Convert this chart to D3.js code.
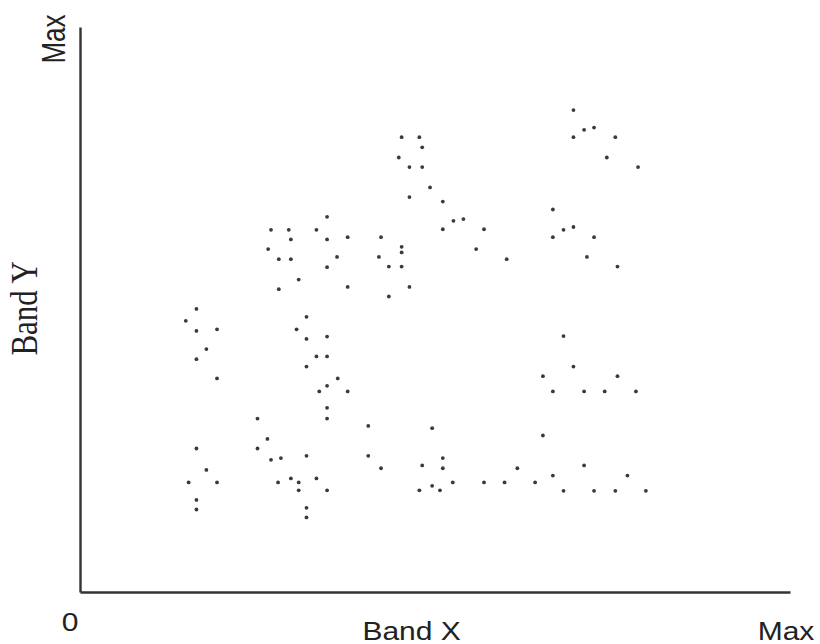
<!DOCTYPE html>
<html>
<head>
<meta charset="utf-8">
<script src="https://cdn.jsdelivr.net/npm/d3@7"></script>
<style>
	body { margin: 0; background: #fff; }
	svg { display: block; }
	.label { font-family: 'Liberation Sans', Arial, sans-serif; fill: #222; }
	.label-serif { font-family: 'Liberation Serif', 'Times New Roman', serif; fill: #222; }
</style>
</head>
<body>
<div id="scatter"></div>
<script>
// Global vars
var WIDTH = 820;
var HEIGHT = 644;

// Points, both axes on a 0..100 (0..Max) scale
var bandX = [
	16.4, 14.9, 16.4, 19.3, 17.8, 16.4, 19.3, 16.4, 17.8, 15.3, 19.3, 16.4, 16.4,
	31.9, 30.5, 31.9, 34.8, 33.3, 34.8, 31.9, 36.3, 34.8, 33.7, 37.7, 34.8, 34.8,
	25.0, 26.4, 25.0, 26.9, 28.3, 31.9, 27.9, 29.7, 30.8, 33.3, 30.8, 34.8, 31.9, 31.9,
	34.8, 26.9, 29.4, 33.3, 29.7, 34.8, 37.7, 26.5, 28.0, 29.7, 36.2, 34.8, 30.8, 28.0, 37.7,
	45.3, 47.8, 48.2, 44.9, 46.4, 48.2, 49.3, 46.4, 51.1, 52.6, 54.0, 51.1, 56.9,
	42.4, 45.3, 45.3, 42.1, 43.5, 45.3, 55.8, 60.1, 46.4, 43.5,
	40.6, 49.6, 40.6, 51.1, 42.4, 48.2, 51.1, 61.6, 52.5, 56.9, 59.8, 49.6, 47.8, 50.7,
	69.5, 71.0, 72.4, 69.5, 75.4, 74.2, 78.6, 66.6, 68.1, 69.5, 66.6, 72.4, 71.4, 75.7,
	68.1, 69.5, 65.2, 75.7, 66.6, 71.0, 73.9, 78.3,
	65.2, 71.0, 66.6, 77.1, 64.1, 68.1, 72.4, 75.4, 79.7
];

var bandY = [
	50.1, 48.0, 46.2, 46.5, 43.0, 41.2, 37.8, 25.4, 21.6, 19.4, 19.4, 16.3, 14.6,
	48.7, 46.5, 44.8, 45.2, 41.7, 41.7, 39.9, 37.8, 36.5, 35.5, 35.5, 32.6, 30.7,
	30.7, 27.1, 25.4, 23.4, 23.7, 24.1, 19.4, 20.1, 19.4, 20.1, 18.0, 18.0, 14.9, 13.2,
	66.4, 64.1, 64.1, 64.1, 62.4, 62.4, 62.8, 60.7, 58.9, 58.9, 59.3, 57.5, 55.3, 53.6, 54.0,
	80.5, 80.5, 78.7, 76.9, 75.2, 75.2, 71.6, 69.9, 69.1, 65.7, 66.0, 64.2, 64.2,
	62.8, 61.1, 60.1, 59.3, 57.6, 57.6, 60.7, 58.9, 54.0, 52.3,
	29.4, 29.0, 24.1, 23.7, 21.9, 22.4, 21.9, 21.9, 19.4, 19.4, 19.4, 18.8, 18.0, 18.0,
	85.3, 81.8, 82.2, 80.5, 80.5, 76.9, 75.2, 67.7, 64.1, 64.6, 62.8, 62.8, 59.3, 57.6,
	45.3, 39.9, 38.2, 38.2, 35.5, 35.5, 35.5, 35.5,
	27.7, 22.4, 20.6, 20.6, 19.4, 17.9, 17.9, 17.9, 17.9
];

var axisMin = 0;
var axisMax = 100;
var xTitle = 'Band X';
var yTitle = 'Band Y';
var minLabel = '0';
var maxLabel = 'Max';

/*
 * Render the scatter plot.
 */
var render = function() {
	var margins = {
		top: 27,
		right: 30,
		bottom: 52,
		left: 80
	};

	var stretch = 1.2;

	var chartWidth = WIDTH - margins['left'] - margins['right'];
	var chartHeight = HEIGHT - margins['top'] - margins['bottom'];

	var points = bandX.map(function(d, i) {
		return { x: d, y: bandY[i] };
	});

	var svg = d3
		.select('#scatter')
		.append('svg')
		.attr('width', WIDTH)
		.attr('height', HEIGHT);

	var chartElement = svg
		.append('g')
		.attr('transform', 'translate(' + margins['left'] + ',' + margins['top'] + ')');

	/*
	 * Create D3 scale objects.
	 */
	var xScale = d3
		.scaleLinear()
		.domain([axisMin, axisMax])
		.range([0, chartWidth]);

	var yScale = d3
		.scaleLinear()
		.domain([axisMin, axisMax])
		.range([chartHeight, 0]);

	/*
	 * Axes: bare lines, no ticks.
	 */
	var xAxis = d3.axisBottom(xScale).ticks(0).tickSizeOuter(0);
	var yAxis = d3.axisLeft(yScale).ticks(0).tickSizeOuter(0);

	chartElement
		.append('g')
		.attr('class', 'x axis')
		.attr('transform', 'translate(0,' + chartHeight + ')')
		.call(xAxis);

	chartElement
		.append('g')
		.attr('class', 'y axis')
		.call(yAxis);

	chartElement
		.selectAll('.axis path')
		.attr('stroke', '#333')
		.attr('stroke-width', 2.4);

	/*
	 * Render dots.
	 */
	chartElement
		.append('g')
		.attr('class', 'dots')
		.selectAll('circle')
		.data(points)
		.enter()
		.append('circle')
		.attr('cx', function(d) {
			return xScale(d.x);
		})
		.attr('cy', function(d) {
			return yScale(d.y);
		})
		.attr('r', 1.9)
		.attr('fill', '#3a3a3a');

	/*
	 * Labels (the source art is a little wider than tall, hence the stretch)
	 */
	var x0 = margins['left'];
	var y0 = margins['top'] + chartHeight;

	svg
		.append('text')
		.attr('class', 'label')
		.attr('text-anchor', 'middle')
		.attr('font-size', 25)
		.attr('transform', 'translate(' + (x0 + xScale(axisMin) - 10) + ',' + (y0 + 39) + ') scale(' + stretch + ',1)')
		.text(minLabel);

	svg
		.append('text')
		.attr('class', 'label')
		.attr('text-anchor', 'middle')
		.attr('font-size', 25)
		.attr('transform', 'translate(' + (x0 + xScale(axisMax) - 4) + ',' + (y0 + 48) + ') scale(' + stretch + ',1)')
		.text(maxLabel);

	svg
		.append('text')
		.attr('class', 'label')
		.attr('text-anchor', 'middle')
		.attr('font-size', 25)
		.attr('transform', 'translate(' + (x0 + xScale(46.7)) + ',' + (y0 + 48) + ') scale(' + stretch + ',1)')
		.text(xTitle);

	svg
		.append('text')
		.attr('class', 'label')
		.attr('text-anchor', 'middle')
		.attr('font-size', 26)
		.attr('transform', 'translate(' + (x0 - 15) + ',' + (margins['top'] + yScale(axisMax) + 12) + ') scale(1.3,1) rotate(-90)')
		.text(maxLabel);

	svg
		.append('text')
		.attr('class', 'label-serif')
		.attr('text-anchor', 'middle')
		.attr('font-size', 31)
		.attr('transform', 'translate(' + (x0 - 43) + ',' + (margins['top'] + yScale(50.2)) + ') scale(' + stretch + ',1) rotate(-90)')
		.text(yTitle);
};

window.onload = render;
</script>
</body>
</html>
